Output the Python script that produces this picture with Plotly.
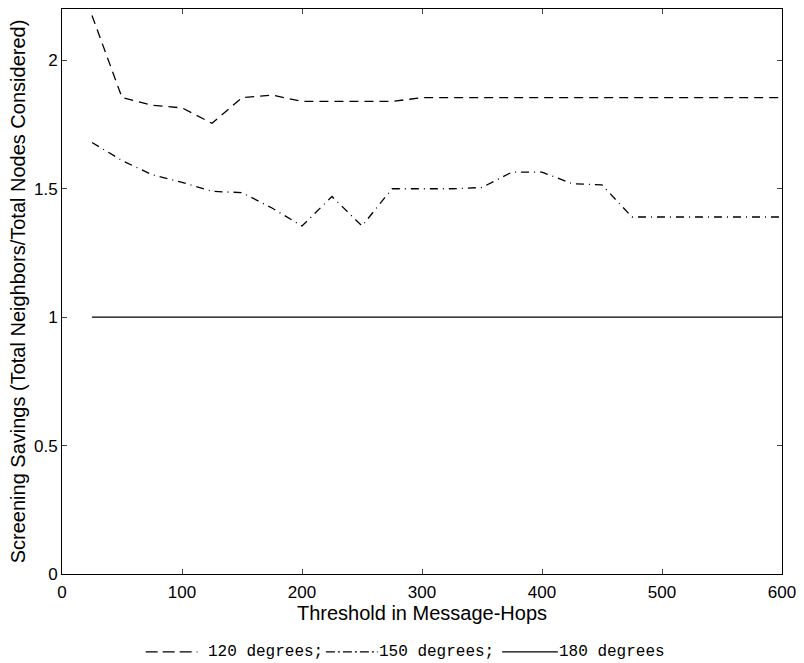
import plotly.graph_objects as go

# Threshold values (message-hops)
threshold = [25, 50, 75, 100, 125, 150, 175, 200, 225, 250, 275, 300,
             325, 350, 375, 400, 425, 450, 475, 500, 525, 550, 575, 600]

# Screening savings for each beam angle
savings_120 = [2.175, 1.855, 1.825, 1.815, 1.755, 1.855, 1.865, 1.84, 1.84, 1.84, 1.84, 1.855,
               1.855, 1.855, 1.855, 1.855, 1.855, 1.855, 1.855, 1.855, 1.855, 1.855, 1.855, 1.855]
savings_150 = [1.68, 1.61, 1.555, 1.525, 1.49, 1.485, 1.425, 1.355, 1.47, 1.355, 1.50, 1.50,
               1.50, 1.505, 1.565, 1.565, 1.52, 1.515, 1.39, 1.39, 1.39, 1.39, 1.39, 1.39]
savings_180 = [1.0] * len(threshold)

series_names = ["120 degrees;", "150 degrees;", "180 degrees"]
x_ticks = [0, 100, 200, 300, 400, 500, 600]
y_ticks = [0, 0.5, 1, 1.5, 2]
y_tick_labels = ["0", "0.5", "1", "1.5", "2"]

W, H = 804, 663
ML, MR, MT, MB = 62, 19, 8, 89
PW, PH = W - ML - MR, H - MT - MB

dash_120 = "9px,6px"
dash_150 = "8px,5px,1px,5px"
line_styles = [dash_120, dash_150, "solid"]

fig = go.Figure()
for xs, ys, nm, ds in zip([threshold] * 3, [savings_120, savings_150, savings_180],
                          series_names, line_styles):
    fig.add_trace(go.Scatter(x=xs, y=ys, mode="lines", name=nm, showlegend=False,
                             line=dict(color="black", width=1.3, dash=ds)))


def px_x(p):
    return (p - ML) / PW


def px_y(q):
    return (H - MB - q) / PH


# Caption-style key beneath the axis: line sample followed by monospace text
key_y = 652
key_samples = [(146, 198, 208, "12px,5px"), (327, 379, 379, "9px,3px,2px,3px"),
               (504, 560, 560, "solid")]
shapes = []
annotations = []
for (x0, x1, xt, ds), txt in zip(key_samples, series_names):
    shapes.append(dict(type="line", xref="paper", yref="paper",
                       x0=px_x(x0), x1=px_x(x1), y0=px_y(key_y), y1=px_y(key_y),
                       line=dict(color="black", width=1.3, dash=ds)))
    annotations.append(dict(xref="paper", yref="paper", x=px_x(xt), y=px_y(key_y),
                            xanchor="left", yanchor="middle", text=txt, showarrow=False,
                            borderpad=0,
                            font=dict(family="Liberation Mono, Courier New, monospace",
                                      size=16, color="black")))

tick_font = dict(family="Liberation Sans, Arial, sans-serif", size=17, color="black")
title_font = dict(family="Liberation Sans, Arial, sans-serif", size=20, color="black")

fig.update_layout(
    width=W, height=H,
    margin=dict(l=ML, r=MR, t=MT, b=MB),
    paper_bgcolor="white", plot_bgcolor="white",
    font=tick_font,
    showlegend=False,
    shapes=shapes,
    annotations=annotations,
    xaxis=dict(range=[0, 600], tickvals=x_ticks, ticks="inside", ticklen=5,
               showline=True, linecolor="black", linewidth=1, mirror="ticks",
               showgrid=False, zeroline=False, tickfont=tick_font, ticklabelstandoff=3,
               title=dict(text="Threshold in Message-Hops", font=title_font, standoff=2)),
    yaxis=dict(range=[0, 2.2], tickvals=y_ticks, ticktext=y_tick_labels, ticks="inside", ticklen=5,
               showline=True, linecolor="black", linewidth=1, mirror="ticks",
               showgrid=False, zeroline=False, tickfont=tick_font,
               title=dict(text="Screening Savings (Total Neighbors/Total Nodes Considered)",
                          font=title_font, standoff=2)),
)

fig.write_html("out.html")
